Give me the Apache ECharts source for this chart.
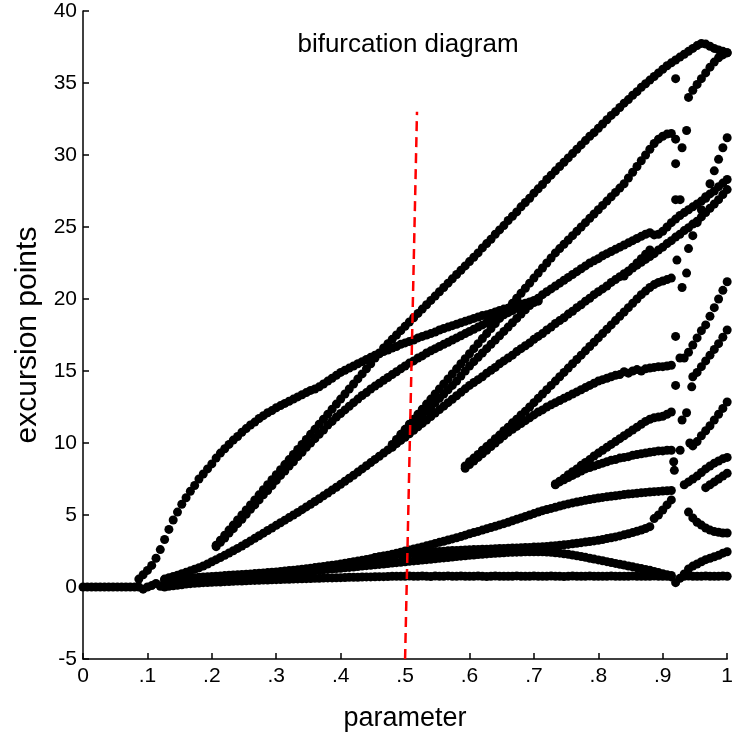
<!DOCTYPE html>
<html><head><meta charset="utf-8">
<script src="https://cdn.jsdelivr.net/npm/echarts@6/dist/echarts.min.js"></script>
<style>html,body{margin:0;padding:0;background:#fff}#c{width:736px;height:745px}</style>
</head><body><div id="c"></div>
<script>
// parameter grid: x = index / 150
const STEP = 1 / 150;
const xTickLabels = ['0', '.1', '.2', '.3', '.4', '.5', '.6', '.7', '.8', '.9', '1'];

const B0_start = 0;
const B0 = [0,0,0,0,0,0,0,0,0,0,0,0,0,
0,-0.15,0,0.1,0.25,0.05,0,0.05,
0.09,0.12,0.16,0.2,0.23,0.26,0.28,0.3,0.31,0.33,
0.34,0.35,0.37,0.38,0.4,0.41,0.42,0.43,0.45,0.46,0.47,0.48,0.49,0.5,0.51,
0.52,0.53,0.54,0.55,0.56,0.57,0.58,0.59,0.6,0.61,0.62,0.63,0.63,0.64,0.65,
0.66,0.67,0.67,0.68,0.69,0.7,0.7,0.71,0.72,0.72,0.73,0.74,0.74,0.75,0.75,
0.76,0.75,0.74,0.76,0.75,0.73,0.76,0.75,0.75,0.77,0.74,0.75,0.76,0.75,0.74,
0.75,0.76,0.75,0.73,0.75,0.76,0.75,0.74,0.75,0.75,0.77,0.75,0.74,0.75,0.76,
0.75,0.74,0.75,0.76,0.75,0.75,0.73,0.75,0.76,0.75,0.74,0.75,0.76,0.75,0.75,
0.74,0.75,0.76,0.75,0.74,0.75,0.75,0.76,0.74,0.75,0.75,0.74,0.76,0.75,0.75,0.74,
0.7,0.3,0.6,0.75,0.76,0.75,0.74,0.75,0.76,0.75,0.74,0.75,0.76,0.75];

const L2_start = 19;
const L2 = [0.3,0.32,0.35,0.37,0.4,0.42,0.45,0.47,0.5,0.52,0.54,0.56,
0.58,0.6,0.63,0.65,0.67,0.7,0.72,0.74,0.77,0.79,0.81,0.84,0.86,0.88,0.9,
0.93,0.95,0.98,1.0,1.03,1.06,1.09,1.11,1.14,1.17,1.2,1.22,1.25,1.28,1.3,
1.33,1.36,1.39,1.42,1.45,1.48,1.51,1.54,1.57,1.6,1.63,1.66,1.69,1.72,1.75,
1.78,1.81,1.84,1.87,1.9,1.93,1.96,1.99,2.02,2.05,2.08,2.11,2.14,2.17,2.2,
2.22,2.25,2.27,2.3,2.32,2.34,2.36,2.38,2.4,2.41,2.42,2.43,2.44,2.45,2.45,
2.45,2.44,2.43,2.41,2.38,2.35,2.31,2.27,2.22,2.17,2.12,2.06,2.0,1.94,1.88,
1.82,1.76,1.7,1.64,1.58,1.52,1.46,1.4,1.34,1.28,1.22,1.16,1.08,1.0,0.92,0.85,0.8];

const L3_start = 19;
const L3 = [0.5,0.52,0.54,0.56,0.58,0.6,0.62,0.65,0.67,0.69,0.71,0.73,
0.75,0.77,0.79,0.81,0.83,0.85,0.87,0.89,0.91,0.93,0.95,0.98,1.0,1.03,1.05,
1.08,1.11,1.14,1.17,1.2,1.23,1.27,1.31,1.35,1.39,1.43,1.47,1.51,1.55,1.6,
1.65,1.7,1.75,1.8,1.85,1.91,1.97,2.03,2.09,2.15,2.21,2.28,2.35,2.42,2.5,
2.57,2.64,2.71,2.78,2.86,2.94,3.02,3.1,3.18,3.26,3.34,3.42,3.5,3.6,3.7,
3.78,3.86,3.95,4.04,4.13,4.22,4.31,4.4,4.5,4.6,4.7,4.8,4.9,5.0,5.1,
5.2,5.3,5.38,5.46,5.54,5.62,5.7,5.77,5.84,5.9,5.96,6.02,6.08,6.13,6.18,
6.22,6.26,6.3,6.34,6.38,6.42,6.45,6.48,6.51,6.54,6.57,6.6,6.62,6.64,6.66,6.68,6.7];

const N_start = 68;
const N = [2.05,2.1,2.14,2.17,2.2,2.23,2.26,2.29,
2.32,2.35,2.37,2.39,2.41,2.43,2.45,2.47,2.49,2.51,2.53,2.54,2.56,2.57,2.58,
2.6,2.61,2.62,2.63,2.64,2.65,2.67,2.68,2.69,2.7,2.71,2.73,2.74,2.75,2.77,
2.78,2.8,2.82,2.84,2.87,2.9,2.93,2.96,3.0,3.04,3.08,3.12,3.16,3.2,3.25,
3.3,3.36,3.42,3.48,3.55,3.62,3.7,3.78,3.87,3.96,4.06,4.19,4.75,5.0,5.35,5.7,6.05];

const RQ_start = 19;
const RQ = [0.55,0.64,0.73,0.82,0.92,1.02,1.12,1.23,1.34,1.46,1.6,1.75,
1.9,2.05,2.2,2.36,2.52,2.68,2.85,3.02,3.2,3.38,3.56,3.74,3.92,4.1,4.28,
4.46,4.64,4.82,5.0,5.18,5.37,5.56,5.75,5.94,6.13,6.33,6.53,6.73,6.93,7.13,
7.34,7.55,7.76,7.98,8.2,8.42,8.64,8.86,9.08,9.3,9.52,9.74,9.96,10.18,10.4,
10.64,10.88,11.12,11.36,11.6,11.84,12.08,12.32,12.56,12.8,13.04,13.28,13.52,13.76,14.0,
14.2,14.4,14.6,14.85,15.05,15.25,15.5,15.7,15.9,16.1,16.35,16.55,16.75,16.95,17.2,
17.4,17.6,17.85,18.05,18.3,18.5,18.7,18.95,19.15,19.4,19.6,19.85,20.05,20.3,20.5,
20.7,20.9,21.15,21.35,21.55,21.75,21.95,22.15,22.35,22.55,22.75,22.95,23.15,23.4,23.6,
23.85,24.05,24.3,24.5,24.75,24.95,25.2,25.4,25.7,26.0,26.3,26.6,26.9,27.25,27.6];

const S1_start = 72;
const S1 = [9.9,10.25,10.6,10.95,
11.3,11.65,12.0,12.35,12.7,13.05,13.4,13.75,14.1,14.45,14.8,15.15,15.5,15.85,16.2,
16.55,16.9,17.25,17.6,17.95,18.3,18.65,19.0,19.35,19.7,20.05,20.4,20.75,21.1,21.45,
21.8,22.15,22.5,22.85,23.2,23.5,23.8,24.1,24.4,24.7,25.0,25.3,25.6,25.9,26.2,
26.5,26.8,27.1,27.4,27.7,28.0,28.4,28.8,29.2,29.6,30.0,30.4,30.8,31.1,31.3,31.45,31.5,31.1];

const S2_start = 72;
const S2 = [9.7,10.0,10.35,10.7,
11.0,11.3,11.6,11.9,12.2,12.5,12.8,13.1,13.4,13.7,14.0,14.3,14.65,15.0,15.35,
15.65,15.95,16.25,16.55,16.85,17.15,17.45,17.75,18.05,18.35,18.65,18.95,19.25,19.55,19.8,20.05];

const X_start = 107;
const X = [20.3,20.5,20.7,20.9,21.1,21.3,21.5,21.7,21.9,22.1,22.3,22.5,22.65,22.8,
23.0,23.15,23.3,23.45,23.6,23.75,23.9,24.05,24.2,24.35,24.5,24.6,24.45,24.5,24.7,
25.0,25.3,25.55,25.8,26.0,26.2,26.4,26.6,26.8,27.0,27.3,27.5,27.8,28.05,28.3];

const P_start = 13;
const P = [0.55,0.85,1.15,1.5,2.0,2.6,3.3,4.0,4.65,5.2,5.75,6.2,6.65,7.05,7.5,7.85,8.2,8.55,
8.95,9.3,9.6,9.9,10.2,10.45,10.75,11.0,11.25,11.45,11.7,11.9,12.1,12.25,12.45,
12.6,12.75,12.9,13.05,13.2,13.35,13.5,13.65,13.75,13.9,14.1,14.3,14.5,14.7,14.9,
15.05,15.2,15.35,15.5,15.65,15.8,15.95,16.1,16.2,16.35,16.45,16.6,16.7,16.85,16.95,
17.05,17.15,17.3,17.4,17.5,17.6,17.7,17.85,17.95,18.05,18.15,18.25,18.35,18.45,18.55,
18.65,18.75,18.85,18.9,19.0,19.1,19.2,19.3,19.35,19.45,19.55,19.65,19.7,19.8,19.9,20.0];

const T_start = 31;
const T = [2.9,3.25,3.6,3.95,4.3,4.65,5.0,5.35,5.7,6.05,6.4,6.75,7.1,7.45,7.8,
8.15,8.5,8.85,9.2,9.55,9.9,10.25,10.6,10.95,11.3,11.65,12.0,12.35,12.7,13.05,
13.4,13.75,14.1,14.45,14.8,15.15,15.5,15.9,16.25,16.6,16.9,17.2,17.5,17.8,18.1,
18.4,18.7,19.0,19.3,19.6,19.9,20.2,20.5,20.8,21.1,21.4,21.7,22.0,22.3,22.6,
22.9,23.2,23.55,23.85,24.15,24.5,24.8,25.1,25.45,25.75,26.05,26.4,26.7,27.0,27.35,
27.65,27.95,28.3,28.6,28.9,29.2,29.5,29.8,30.1,30.4,30.7,31.0,31.3,31.55,31.85,
32.15,32.45,32.75,33.0,33.3,33.6,33.85,34.15,34.4,34.7,34.95,35.2,35.45,35.7,35.95,
36.2,36.4,36.6,36.8,37.0,37.2,37.4,37.6,37.75,37.7,37.55,37.4,37.3,37.2,37.1];

const T2_start = 31;
const T2 = [2.8,3.1,3.4,3.75,4.05,4.4,4.7,5.05,5.4,5.7,6.05,6.4,6.7,7.05,7.4,
7.75,8.05,8.4,8.7,9.05,9.35,9.7,10.0,10.3,10.6,10.9,11.25,11.5,11.8,12.05,
12.3,12.55,12.8,13.05,13.3,13.5,13.75,13.95,14.15,14.35,14.55,14.75,14.95,15.15,15.35,
15.55,15.7,15.9,16.05,16.25,16.4,16.55,16.7,16.85,17.0,17.15,17.3,17.45,17.6,17.75,
17.9,18.05,18.2,18.35,18.5,18.6,18.75,18.9,19.05,19.2,19.35,19.45,19.55,19.65,19.75,19.85];

const U_start = 89;
const U = [8.4,8.7,
8.95,9.2,9.5,9.75,10.0,10.3,10.55,10.85,11.1,11.4,11.65,11.95,12.2,12.5,12.8,
13.1,13.4,13.7,14.0,14.3,14.6,14.9,15.2,15.5,15.8,16.1,16.4,16.7,17.0,17.3,
17.6,17.9,18.2,18.5,18.8,19.1,19.4,19.7,20.0,20.3,20.55,20.8,21.0,21.15,21.25,21.35,21.45];

const V_start = 89;
const V = [8.25,8.5,
8.75,9.0,9.25,9.5,9.75,10.0,10.25,10.5,10.75,10.95,11.15,11.35,11.55,11.75,11.95,
12.15,12.3,12.5,12.65,12.8,12.95,13.1,13.25,13.4,13.55,13.7,13.85,14.0,14.15,14.3,
14.4,14.5,14.6,14.7,14.75,14.95,14.85,15.0,15.1,15.0,15.15,15.2,15.25,15.3,15.3,15.35,15.4];

const W1_start = 110;
const W1 = [7.1,7.3,7.45,7.6,7.75,7.9,8.05,8.2,8.3,8.4,8.5,
8.6,8.7,8.8,8.85,8.95,9.0,9.05,9.15,9.2,9.25,9.3,9.35,9.4,9.45,9.45,9.5,9.5];

const W2_start = 110;
const W2 = [7.15,7.35,7.55,7.8,8.0,8.2,8.45,8.65,8.85,9.1,9.3,
9.5,9.7,9.9,10.1,10.3,10.5,10.7,10.9,11.1,11.3,11.5,11.65,11.75,11.8,11.85,12.0,12.15];

const Y_start = 126;
const Y = [21.6,21.9,22.2,22.5,22.8,23.1,23.4];

const Tp_start = 141;
const Tp = [34.0,34.5,34.9,35.3,35.7,36.1,36.45,36.75,36.95,37.1];
const D_start = 141;
const D = [23.5,24.4,25.3,26.2,27.1,28.0,28.9,29.7,30.5,31.2];
const E_start = 139;
const E = [15.9,15.9,16.3,16.8,17.3,17.8,18.2,18.8,19.4,20.0,20.6,21.2];
const F_start = 142;
const F = [14.6,14.9,15.3,15.7,16.1,16.5,16.9,17.35,17.85];
const G_start = 142;
const G = [9.8,10.1,10.5,10.85,11.2,11.6,12.0,12.4,12.85];
const H1_start = 140;
const H1 = [7.1,7.3,7.5,7.7,7.95,8.2,8.4,8.6,8.75,8.9,9.0];
const H2_start = 145;
const H2 = [6.9,7.1,7.3,7.5,7.7,7.9];
const I_start = 141;
const I = [5.2,4.8,4.5,4.3,4.1,3.95,3.85,3.8,3.75,3.75];
const J_start = 140;
const J = [0.9,1.25,1.45,1.6,1.75,1.9,2.0,2.1,2.2,2.35,2.45];

const looseX = [0.92,0.937,0.93,0.92,0.92,0.927,0.922,0.937,0.93,0.92,0.92,0.945,0.937,0.93,0.917,0.918,0.927,0.942];
const looseY = [35.3,31.7,30.5,29.4,26.9,26.9,22.7,21.8,20.8,17.4,14.0,13.9,12.1,11.6,8.7,8.1,9.5,10.0];

const redLineX = [0.5, 0.5185];
const redLineY = [-5, 33];

const FONT = "'Liberation Sans', Arial, sans-serif";

const branches = [
  [B0_start, B0], [L2_start, L2], [L3_start, L3], [N_start, N], [RQ_start, RQ],
  [S1_start, S1], [S2_start, S2], [X_start, X], [P_start, P], [T_start, T], [T2_start, T2],
  [U_start, U], [V_start, V], [W1_start, W1], [W2_start, W2], [Y_start, Y],
  [Tp_start, Tp], [D_start, D], [E_start, E], [F_start, F], [G_start, G],
  [H1_start, H1], [H2_start, H2], [I_start, I], [J_start, J]
];

const dotStyle = { color: '#000', opacity: 1 };
const series = branches.map(([s, ys]) => ({
  type: 'scatter', symbol: 'circle', symbolSize: 9, silent: true,
  itemStyle: dotStyle,
  data: ys.map((y, k) => [(s + k) * STEP, y])
}));
series.push({
  type: 'scatter', symbol: 'circle', symbolSize: 9, silent: true, itemStyle: dotStyle,
  data: looseX.map((x, k) => [x, looseY[k]])
});
series.push({
  type: 'line', symbol: 'none', silent: true, z: 10,
  lineStyle: { color: '#ff0000', width: 2.5, type: [10, 6] },
  data: redLineX.map((x, k) => [x, redLineY[k]])
});

const chart = echarts.init(document.getElementById('c'), null, { renderer: 'canvas' });
chart.setOption({
  animation: false,
  backgroundColor: '#fff',
  title: {
    text: 'bifurcation diagram', left: 403, top: 27, textAlign: 'center',
    textStyle: { fontFamily: FONT, fontSize: 26, fontWeight: 'normal', color: '#000' }
  },
  grid: { left: 83, right: 5, top: 11, bottom: 86, containLabel: false },
  xAxis: {
    type: 'value', min: 0, max: 1, interval: 0.1,
    name: 'parameter', nameLocation: 'middle', nameGap: 46,
    nameTextStyle: { fontFamily: FONT, fontSize: 27, color: '#000' },
    axisLine: { show: true, onZero: false, lineStyle: { color: '#000', width: 1.5 } },
    axisTick: { show: true, inside: true, length: 6, lineStyle: { color: '#000', width: 1.5 } },
    axisLabel: { color: '#000', fontFamily: FONT, fontSize: 21, margin: 7,
      formatter: v => xTickLabels[Math.round(v * 10)] },
    splitLine: { show: false }
  },
  yAxis: {
    type: 'value', min: -5, max: 40, interval: 5,
    name: 'excursion points', nameLocation: 'middle', nameGap: 38,
    nameTextStyle: { fontFamily: FONT, fontSize: 30, color: '#000' },
    axisLine: { show: true, onZero: false, lineStyle: { color: '#000', width: 1.5 } },
    axisTick: { show: true, inside: true, length: 6, lineStyle: { color: '#000', width: 1.5 } },
    axisLabel: { color: '#000', fontFamily: FONT, fontSize: 21, margin: 6 },
    splitLine: { show: false }
  },
  series: series
});
</script>
</body></html>
